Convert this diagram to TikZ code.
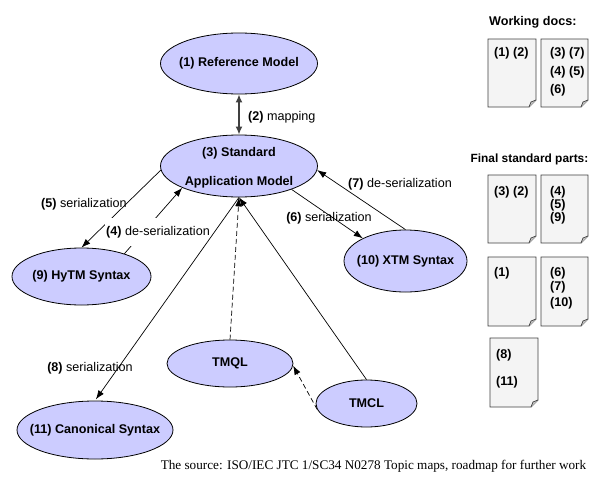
\documentclass[tikz,border=0pt]{standalone}
\usepackage{fontspec}
\setmainfont{Liberation Sans}
\newfontfamily\capfont{Liberation Serif}
\usetikzlibrary{shapes.geometric,arrows.meta}
\definecolor{bubble}{HTML}{CCCCFF}
\definecolor{sheetfill}{HTML}{F4F4F4}
\definecolor{sheetline}{HTML}{404040}

% a sheet of paper with a folded bottom-right corner: x1 y1 x2 y2
\newcommand\docsheet[4]{%
  \draw[sheet] (#1,#2) -- (#3,#2) -- (#3,#4-7) -- (#3-7,#4) -- (#1,#4) -- cycle;
  \draw[sheet,fill=sheetline!30] (#3,#4-7) -- (#3-5,#4-5) -- (#3-7,#4);
}

\begin{document}
\begin{tikzpicture}[x=1pt,y=-1pt,
  base/.style={font=\fontsize{12.6}{15}\selectfont},
  boldtext/.style={font=\fontsize{12.6}{15}\selectfont\bfseries},
  bubble/.style={ellipse,draw=black,line width=0.8pt,fill=bubble,inner sep=0pt},
  conn/.style={draw=black,line width=0.7pt},
  tip/.style={-{Latex[length=9pt,width=6.5pt]}},
  dashline/.style={dash pattern=on 5pt off 3pt},
  elabel/.style={base,inner sep=1pt},
  sheet/.style={draw=sheetline,line width=0.7pt,fill=sheetfill,line join=miter},
  sheettext/.style={boldtext,anchor=west,inner sep=0pt},
]
\useasboundingbox[fill=white] (0,0) rectangle (589,479);

% model bubbles
\node[bubble,minimum width=157pt,minimum height=61pt,
  label={[boldtext]center:(1) Reference Model}] (ref) at (239,63.5) {};
\node[bubble,minimum width=157pt,minimum height=62pt,
  label={[boldtext,yshift=13pt]center:(3) Standard},
  label={[boldtext,yshift=-16pt]center:Application Model}] (sam) at (239,166) {};
\node[bubble,minimum width=139pt,minimum height=57pt,
  label={[boldtext]center:(9) HyTM Syntax}] (hytm) at (81.5,276.5) {};
\node[bubble,minimum width=123pt,minimum height=62pt,
  label={[boldtext]center:(10) XTM Syntax}] (xtm) at (405.5,261) {};
\node[bubble,minimum width=126pt,minimum height=47pt,
  label={[boldtext]center:TMQL}] (tmql) at (230,363.5) {};
\node[bubble,minimum width=101pt,minimum height=47pt,
  label={[boldtext]center:TMCL}] (tmcl) at (366.5,403.5) {};
\node[bubble,minimum width=156pt,minimum height=58pt,
  label={[boldtext]center:(11) Canonical Syntax}] (canon) at (95,430) {};

% mapping between the two models
\draw[draw=black!75,line width=1.6pt,{Latex[length=8pt,width=7pt]}-{Latex[length=8pt,width=7pt]}]
  (ref.south) -- (sam.north);
\node[elabel,anchor=west] (l2) at (247,117) {\textbf{(2)} mapping};

% serialization / de-serialization
\draw[conn,tip] (sam.183) -- (hytm.north);
\node[elabel,anchor=west] (l5) at (40,204) {\textbf{(5)} serialization};
\draw[conn,tip] (hytm.28) -- (sam.201);
\node[elabel,fill=white,inner ysep=8pt] (l4) at (158,232) {\textbf{(4)} de-serialization};
\draw[conn,tip] (sam.336) -- (xtm.152);
\node[elabel] (l6) at (329,218) {\textbf{(6)} serialization};
\draw[conn,tip] (xtm.north) -- (sam.357);
\node[elabel] (l7) at (400,184) {\textbf{(7)} de-serialization};
\draw[conn,tip,shorten >=1.5pt] (sam.south) -- (canon.north);
\node[elabel] (l8) at (90,368) {\textbf{(8)} serialization};

% query and constraint languages
\draw[conn,tip,dashline] (tmql.north) -- (sam.south);
\draw[conn,tip] (tmcl.north) -- (sam.south);
\draw[conn,tip,dashline] (tmcl.187) -- (tmql.358);

% working documents
\node[boldtext,anchor=west,inner sep=0pt] (wd) at (489,22) {Working docs:};
\docsheet{488}{39}{536}{107}
\docsheet{541}{39}{588}{107}
\node[sheettext] (w1) at (494,53) {(1) (2)};
\node[sheettext] (w2a) at (550,53) {(3) (7)};
\node[sheettext] (w2b) at (550,72) {(4) (5)};
\node[sheettext] (w2c) at (550,90) {(6)};

% final standard parts
\node[font=\fontsize{11.9}{14}\selectfont\bfseries,anchor=east,inner sep=0pt] (fsp) at (588.5,159) {Final standard parts:};
\docsheet{488}{175}{536}{243}
\docsheet{541}{175}{588}{243}
\docsheet{488}{257}{536}{326}
\docsheet{541}{257}{588}{326}
\docsheet{490}{338}{538}{407}
\node[sheettext] (f1) at (494,192) {(3) (2)};
\node[sheettext] (f2a) at (550,192) {(4)};
\node[sheettext] (f2b) at (550,205) {(5)};
\node[sheettext] (f2c) at (550,218) {(9)};
\node[sheettext] (f3) at (494,273) {(1)};
\node[sheettext] (f4a) at (550,273) {(6)};
\node[sheettext] (f4b) at (550,287) {(7)};
\node[sheettext] (f4c) at (550,303) {(10)};
\node[sheettext] (f5a) at (496,355) {(8)};
\node[sheettext] (f5b) at (496,382) {(11)};

% source line
\node[font=\capfont\fontsize{13.2}{15}\selectfont,inner sep=0pt] (src) at (373.5,466)
  {The source: ISO/IEC JTC 1/SC34 N0278 Topic maps, roadmap for further work};
\end{tikzpicture}
\end{document}
